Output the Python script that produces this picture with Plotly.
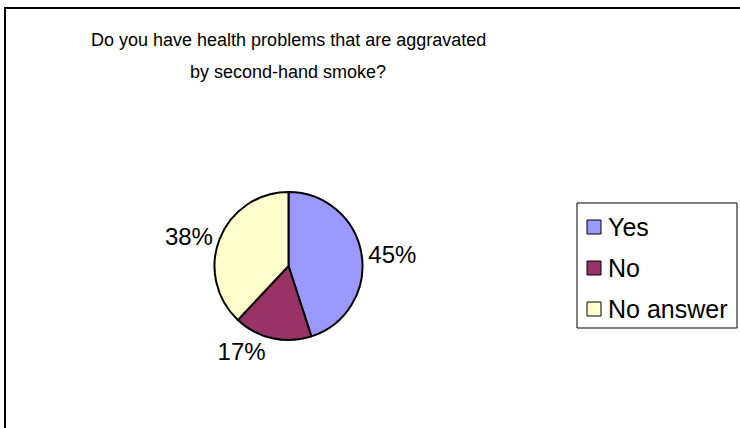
import plotly.graph_objects as go

# Survey answers
labels = ["Yes", "No", "No answer"]
shares = [45, 17, 38]
colors = ["#9999FF", "#993366", "#FFFFCC"]
title_lines = ["Do you have health problems that are aggravated", "by second-hand smoke?"]

W, H = 740, 428
FONT = "Liberation Sans, Arial, sans-serif"


def px(x):
    return x / W


def py(y):
    return 1 - y / H


# pie geometry (pixels)
cx, cy, r = 288.5, 266, 74

fig = go.Figure(
    go.Pie(
        labels=labels,
        values=shares,
        sort=False,
        direction="clockwise",
        rotation=0,
        marker=dict(colors=colors, line=dict(color="black", width=2)),
        textinfo="percent",
        textposition="outside",
        outsidetextfont=dict(family=FONT, size=24, color="black"),
        domain=dict(x=[px(cx - r), px(cx + r)], y=[py(cy + r), py(cy - r)]),
        showlegend=False,
        hoverinfo="label+percent",
    )
)

shapes = [
    # chart frame
    dict(type="rect", xref="paper", yref="paper",
         x0=px(5), x1=1.02, y0=-0.02, y1=py(8),
         line=dict(color="black", width=2), fillcolor="rgba(0,0,0,0)"),
    # legend frame
    dict(type="rect", xref="paper", yref="paper",
         x0=px(577), x1=px(737), y0=py(328), y1=py(203),
         line=dict(color="black", width=1), fillcolor="white"),
]
annotations = []

# legend entries
leg_top, leg_step = 227, 41
for i, (lab, col) in enumerate(zip(labels, colors)):
    yc = leg_top + i * leg_step
    shapes.append(dict(type="rect", xref="paper", yref="paper",
                       x0=px(587), x1=px(601), y0=py(yc + 7), y1=py(yc - 7),
                       line=dict(color="black", width=1), fillcolor=col))
    annotations.append(dict(x=px(606), y=py(yc), xref="paper", yref="paper",
                            text=lab, showarrow=False, xanchor="left", yanchor="middle",
                            font=dict(family=FONT, size=25, color="black")))

# title
for i, line in enumerate(title_lines):
    annotations.append(dict(x=px(288), y=py(40 + i * 32), xref="paper", yref="paper",
                            text=line, showarrow=False, xanchor="center", yanchor="middle",
                            font=dict(family=FONT, size=18, color="black")))

fig.update_layout(
    width=W, height=H,
    margin=dict(l=0, r=0, t=0, b=0),
    paper_bgcolor="white",
    plot_bgcolor="white",
    shapes=shapes,
    annotations=annotations,
    font=dict(family=FONT, color="black"),
)

fig.write_html("out.html")
